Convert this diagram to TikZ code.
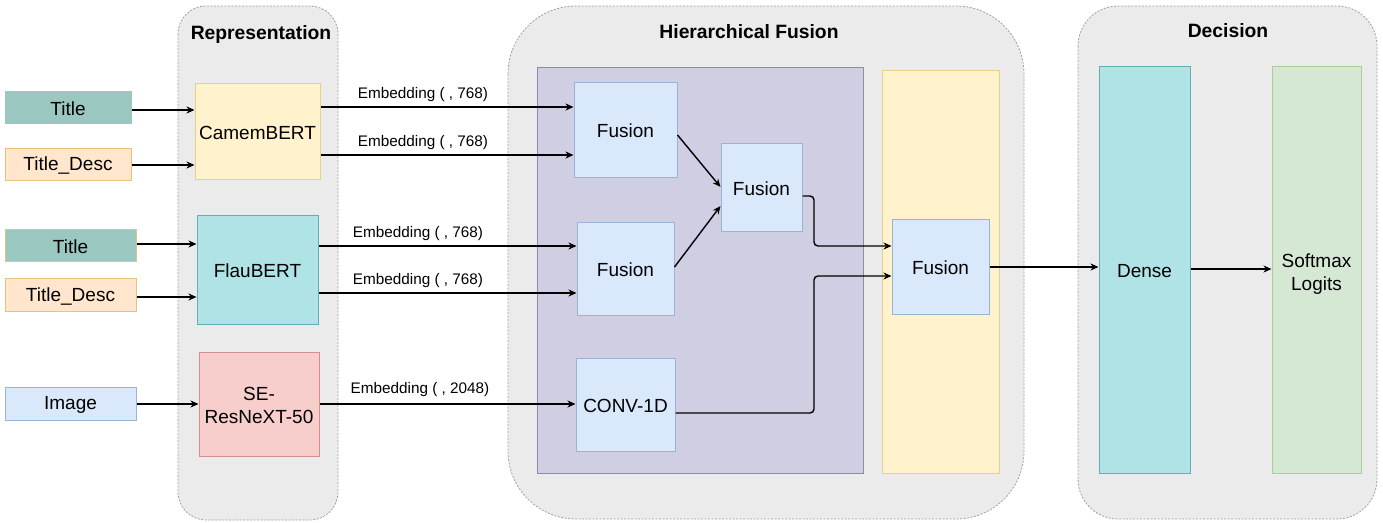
\documentclass[tikz,border=0pt]{standalone}
\usepackage{fontspec}
\setmainfont{Liberation Sans}
\usetikzlibrary{arrows.meta,calc}
\definecolor{contfill}{HTML}{EBEBEB}
\definecolor{contdraw}{HTML}{A0A0A0}
\definecolor{tealfill}{HTML}{9AC7BF}
\definecolor{orfill}{HTML}{FFE6CC}
\definecolor{ordraw}{HTML}{E8C27A}
\definecolor{bluefill}{HTML}{DAE8FC}
\definecolor{bluedraw}{HTML}{9AB2D6}
\definecolor{yelfill}{HTML}{FFF2CC}
\definecolor{yeldraw}{HTML}{E6D08A}
\definecolor{cyanfill}{HTML}{B0E3E6}
\definecolor{cyandraw}{HTML}{5FAFB5}
\definecolor{redfill}{HTML}{F8CECC}
\definecolor{reddraw}{HTML}{D48F8C}
\definecolor{purfill}{HTML}{D0CEE2}
\definecolor{purdraw}{HTML}{8E8AAD}
\definecolor{grnfill}{HTML}{D5E8D4}
\definecolor{grndraw}{HTML}{A9CF97}
\tikzset{
  cont/.style={fill=contfill,draw=contdraw,line width=0.8pt,dash pattern=on 2pt off 1.5pt},
  hdr/.style={font=\fontsize{19.3}{23}\selectfont\bfseries,anchor=base},
  box/.style={line width=1pt,inner sep=0pt,align=center,font=\fontsize{19}{23}\selectfont},
  lbl/.style={box,yshift=-1.5},
  emb/.style={font=\fontsize{15.3}{18}\selectfont,anchor=base,inner sep=0pt},
  arr/.style={line width=1.4pt,-{Stealth[length=8pt,width=7pt,inset=2.5pt]}},
}
\newcommand{\boxat}[6]{\node[box,#2,minimum width=#5-#3,minimum height=#6-#4] (#1) at ({(#3+#5)/2},{(#4+#6)/2}) {};}
\begin{document}
\begin{tikzpicture}[x=1pt,y=-1pt]
\useasboundingbox (0,0) rectangle (1383,522);
% containers
\draw[cont,rounded corners=28] (178,6) rectangle (338,520);
\draw[cont,rounded corners=68] (508,6) rectangle (1024,519);
\draw[cont,rounded corners=40] (1078,6) rectangle (1377,519);
\node[hdr] (hrep) at (261,39) {Representation};
\node[hdr] (hfus) at (749,38) {Hierarchical Fusion};
\node[hdr] (hdec) at (1228,37) {Decision};
% large panels
\boxat{pur}{fill=purfill,draw=purdraw}{537}{67}{863}{473}
\boxat{yel}{fill=yelfill,draw=yeldraw}{882}{70}{999}{473}
\boxat{dense}{fill=cyanfill,draw=cyandraw}{1099}{66}{1190}{473}
\boxat{soft}{fill=grnfill,draw=grndraw}{1272}{66}{1361}{473}
\node[lbl] at (dense) {Dense};
\node[lbl] at ([yshift=-3]soft.center) {Softmax\\Logits};
% inputs
\boxat{t1}{fill=tealfill,draw=tealfill}{5}{91}{131}{123}
\boxat{d1}{fill=orfill,draw=ordraw}{5}{148}{131}{180}
\boxat{t2}{fill=tealfill,draw=ordraw}{5}{229}{136}{261}
\boxat{d2}{fill=orfill,draw=ordraw}{5}{278}{136}{311}
\boxat{im}{fill=bluefill,draw=bluedraw}{5}{387}{136}{420}
\node[lbl] at (t1) {Title};
\node[lbl] at (d1) {Title\_Desc};
\node[lbl] at (t2) {Title};
\node[lbl] at (d2) {Title\_Desc};
\node[lbl] at (im) {Image};
% encoders
\boxat{cam}{fill=yelfill,draw=yeldraw}{195}{83}{320}{179}
\boxat{flau}{fill=cyanfill,draw=cyandraw}{197}{215}{318}{324}
\boxat{se}{fill=redfill,draw=reddraw}{199}{352}{319}{456}
\node[lbl] at (cam) {CamemBERT};
\node[lbl] at (flau) {FlauBERT};
\node[lbl] at (se) {SE-\\ResNeXT-50};
% fusion
\boxat{f1}{fill=bluefill,draw=bluedraw}{574}{82}{677}{177}
\boxat{f2}{fill=bluefill,draw=bluedraw}{577}{222}{674}{315}
\boxat{f3}{fill=bluefill,draw=bluedraw}{721}{143}{802}{231}
\boxat{cv}{fill=bluefill,draw=bluedraw}{576}{358}{675}{451}
\boxat{f4}{fill=bluefill,draw=bluedraw}{892}{219}{989}{314}
\node[lbl] at (f1) {Fusion};
\node[lbl] at (f2) {Fusion};
\node[lbl] at (f3) {Fusion};
\node[lbl] at (cv) {CONV-1D};
\node[lbl] at (f4) {Fusion};
% input arrows
\draw[arr] (t1.east |- 0,110) -- (cam.west |- 0,110);
\draw[arr] (d1.east |- 0,165) -- (cam.west |- 0,165);
\draw[arr] (t2.east |- 0,244) -- (flau.west |- 0,244);
\draw[arr] (d2.east |- 0,297) -- (flau.west |- 0,297);
\draw[arr] (im.east |- 0,404) -- (se.west |- 0,404);
% embeddings
\draw[arr] (cam.east |- 0,107) -- (f1.west |- 0,107);
\draw[arr] (cam.east |- 0,155) -- (f1.west |- 0,155);
\draw[arr] (flau.east |- 0,246) -- (f2.west |- 0,246);
\draw[arr] (flau.east |- 0,293) -- (f2.west |- 0,293);
\draw[arr] (se.east |- 0,404) -- (cv.west |- 0,404);
\node[emb] (e1) at (423,98) {Embedding ( , 768)};
\node[emb] (e2) at (423,146) {Embedding ( , 768)};
\node[emb] (e3) at (418,237) {Embedding ( , 768)};
\node[emb] (e4) at (418,284) {Embedding ( , 768)};
\node[emb] (e5) at (420,393) {Embedding ( , 2048)};
% hierarchy
\draw[arr] (f1.east |- 0,135) -- (f3.west |- 0,187);
\draw[arr] (f2.east |- 0,267) -- (f3.west |- 0,206);
\draw[arr,rounded corners=4] (f3.east |- 0,196) -- (814,196) -- (814,246) -- (f4.west |- 0,246);
\draw[arr,rounded corners=4] (cv.east |- 0,413) -- (814,413) -- (814,276) -- (f4.west |- 0,276);
\draw[arr] (f4.east |- 0,267) -- (dense.west |- 0,267);
\draw[arr] (dense.east |- 0,269) -- (soft.west |- 0,269);
\end{tikzpicture}
\end{document}
